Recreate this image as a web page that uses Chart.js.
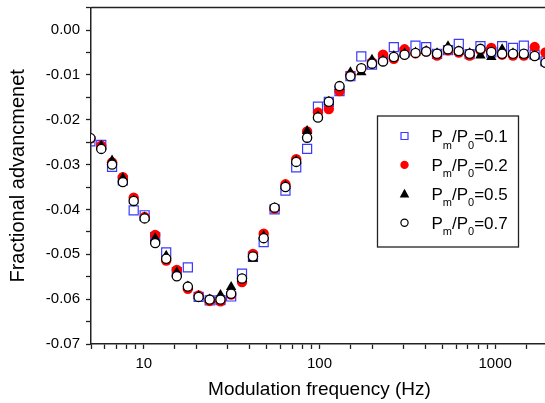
<!DOCTYPE html>
<html>
<head>
<meta charset="utf-8">
<script src="https://cdn.jsdelivr.net/npm/chart.js@4.4.1/dist/chart.umd.min.js"></script>
<style>
body{margin:0;background:#fff;overflow:hidden}
#wrap{width:556px;height:403px;position:relative}
</style>
</head>
<body>
<div id="wrap"><canvas id="myChart"></canvas></div>
<script>
// modulation frequency (Hz), same for all four runs
var freq = [4.96, 5.72, 6.59, 7.59, 8.75, 10.1, 11.6, 13.4, 15.4, 17.8,
            20.5, 23.7, 27.3, 31.4, 36.2, 41.8, 48.1, 55.5, 64.0, 73.7,
            85.0, 98.0, 113, 130, 150, 173, 199, 230, 265, 305,
            352, 405, 467, 539, 621, 716, 825, 951, 1096, 1264,
            1457, 1679, 1936];

// Pm/P0 = 0.1
var ratio01 = [-0.0248, -0.0256, -0.0305, -0.0335, -0.0402, -0.0413, -0.0462, -0.0496, -0.0540, -0.0529,
               -0.0595, -0.0603, -0.0602, -0.0594, -0.0543, -0.0505, -0.0473, -0.0400, -0.0358, -0.0306,
               -0.0265, -0.0171, -0.0160, -0.0136, -0.0103, -0.0059, -0.0077, -0.0062, -0.0038, -0.0050,
               -0.0035, -0.0038, -0.0053, -0.0045, -0.0031, -0.0054, -0.0036, -0.0050, -0.0036, -0.0040,
               -0.0035, -0.0055, -0.0070];
// Pm/P0 = 0.2
var ratio02 = [-0.0242, -0.0258, -0.0295, -0.0328, -0.0374, -0.0417, -0.0457, -0.0514, -0.0535, -0.0577,
               -0.0592, -0.0604, -0.0605, -0.0590, -0.0562, -0.0499, -0.0454, -0.0398, -0.0344, -0.0288,
               -0.0226, -0.0184, -0.0176, -0.0136, -0.0100, -0.0086, -0.0072, -0.0055, -0.0064, -0.0043,
               -0.0052, -0.0048, -0.0057, -0.0045, -0.0050, -0.0057, -0.0045, -0.0040, -0.0055, -0.0057,
               -0.0057, -0.0038, -0.0050];
// Pm/P0 = 0.5
var ratio05 = [-0.0240, -0.0258, -0.0291, -0.0330, -0.0380, -0.0418, -0.0464, -0.0503, -0.0540, -0.0572,
               -0.0593, -0.0601, -0.0591, -0.0573, -0.0555, -0.0510, -0.0459, -0.0397, -0.0348, -0.0292,
               -0.0225, -0.0192, -0.0160, -0.0127, -0.0094, -0.0094, -0.0066, -0.0068, -0.0058, -0.0052,
               -0.0050, -0.0047, -0.0052, -0.0036, -0.0048, -0.0052, -0.0057, -0.0060, -0.0043, -0.0052,
               -0.0055, -0.0058, -0.0072];
// Pm/P0 = 0.7
var ratio07 = [-0.0241, -0.0265, -0.0300, -0.0339, -0.0381, -0.0420, -0.0475, -0.0510, -0.0549, -0.0572,
               -0.0595, -0.0601, -0.0601, -0.0588, -0.0554, -0.0505, -0.0464, -0.0396, -0.0350, -0.0294,
               -0.0240, -0.0195, -0.0160, -0.0125, -0.0103, -0.0085, -0.0075, -0.0070, -0.0060, -0.0055,
               -0.0051, -0.0048, -0.0053, -0.0043, -0.0047, -0.0053, -0.0042, -0.0049, -0.0053, -0.0053,
               -0.0053, -0.0058, -0.0073];

var seriesNames = ['0.1', '0.2', '0.5', '0.7'];
var xTickLabels = [10, 100, 1000];

var FONT = '"Liberation Sans", Arial, sans-serif';

function pts(ys){
    return freq.map(function(f, i){ return {x: f, y: ys[i]}; });
}

// frame line along the top of the plot
var topBorder = {
    id: 'topBorder',
    afterDraw: function(chart){
        var a = chart.chartArea, ctx = chart.ctx;
        ctx.save();
        ctx.strokeStyle = '#222';
        ctx.lineWidth = 1.5;
        ctx.beginPath();
        ctx.moveTo(a.left, a.top);
        ctx.lineTo(a.right + 2, a.top);
        ctx.stroke();
        ctx.restore();
    }
};

function drawMarker(ctx, style, x, y, r){
    ctx.beginPath();
    if(style == 'rect'){
        ctx.rect(x - r, y - r, 2*r, 2*r);
        ctx.stroke();
    } else if(style == 'dot'){
        ctx.arc(x, y, r, 0, Math.PI*2);
        ctx.fill();
    } else if(style == 'triangle'){
        ctx.moveTo(x, y - r);
        ctx.lineTo(x + r*0.95, y + r*0.75);
        ctx.lineTo(x - r*0.95, y + r*0.75);
        ctx.closePath();
        ctx.fill();
    } else {
        ctx.arc(x, y, r, 0, Math.PI*2);
        ctx.fill();
        ctx.stroke();
    }
}

// legend box with subscripted labels
var pmLegend = {
    id: 'pmLegend',
    afterDraw: function(chart){
        var ctx = chart.ctx;
        var bx = 377.5, by = 116, bw = 141, bh = 131;
        ctx.save();
        ctx.fillStyle = '#fff';
        ctx.fillRect(bx, by, bw, bh);
        ctx.strokeStyle = '#222';
        ctx.lineWidth = 1.3;
        ctx.strokeRect(bx, by, bw, bh);

        var styles = ['rect', 'dot', 'triangle', 'open'];
        var fills = ['#fff', '#ff0000', '#000', '#fff'];
        var strokes = ['#3a3aff', '#ff0000', '#000', '#000'];
        var sizes = [3.5, 4.2, 5, 3.6];
        for(var i = 0; i < seriesNames.length; i++){
            var cy = 136 + i*28.9;
            ctx.fillStyle = fills[i];
            ctx.strokeStyle = strokes[i];
            ctx.lineWidth = 1.2;
            drawMarker(ctx, styles[i], 404.5, cy, sizes[i]);

            var x = 431.5, base = cy + 6;
            ctx.fillStyle = '#000';
            ctx.textBaseline = 'alphabetic';
            var parts = [['P', 0, 17], ['m', 6.5, 11], ['/P', 0, 17], ['0', 6.5, 11], ['=' + seriesNames[i], 0, 17]];
            parts.forEach(function(p){
                ctx.font = p[2] + 'px ' + FONT;
                ctx.fillText(p[0], x, base + p[1]);
                x += ctx.measureText(p[0]).width;
            });
        }
        ctx.restore();
    }
};

var ctx = document.getElementById('myChart').getContext('2d');

var chart = new Chart(ctx, {
    type: 'scatter',
    data: {
        datasets: [
            { label: 'Pm/P0=0.1', data: pts(ratio01), pointStyle: 'rect', pointRadius: 6.4,
              borderColor: '#3a3aff', backgroundColor: 'rgba(255,255,255,0)', borderWidth: 1.2, order: 4, clip: 0 },
            { label: 'Pm/P0=0.2', data: pts(ratio02), pointStyle: 'circle', pointRadius: 5.2,
              borderColor: '#ff0000', backgroundColor: '#ff0000', borderWidth: 0, order: 3, clip: 0 },
            { label: 'Pm/P0=0.5', data: pts(ratio05), pointStyle: 'triangle', pointRadius: 6,
              borderColor: '#000', backgroundColor: '#000', borderWidth: 0, order: 2, clip: 0 },
            { label: 'Pm/P0=0.7', data: pts(ratio07), pointStyle: 'circle', pointRadius: 4.6,
              borderColor: '#000', backgroundColor: '#fff', borderWidth: 1.3, order: 1, clip: 0 }
        ]
    },
    options: {
        responsive: true,
        maintainAspectRatio: false,
        animation: false,
        layout: { padding: { left: 0, right: 8, top: 5, bottom: 0 } },
        plugins: {
            legend: { display: false },
            tooltip: { enabled: false }
        },
        scales: {
            x: {
                type: 'logarithmic',
                min: 5,
                max: 2000,
                ticks: {
                    autoSkip: false,
                    maxRotation: 0,
                    color: '#000',
                    padding: 6,
                    font: { family: FONT, size: 15 },
                    callback: function(v){
                        for(var i = 0; i < xTickLabels.length; i++){
                            if(Math.abs(v - xTickLabels[i]) < 1e-6) return String(xTickLabels[i]);
                        }
                        return '';
                    }
                },
                grid: { drawOnChartArea: false, tickLength: 5, tickColor: '#222', tickWidth: 1.3 },
                border: { color: '#222', width: 1.5 },
                title: { display: true, text: 'Modulation frequency (Hz)', color: '#000',
                         font: { family: FONT, size: 19 }, padding: { top: 0, bottom: 2 } },
                afterFit: function(s){ s.height = 59; s.paddingLeft = 0; s.paddingRight = 0; }
            },
            y: {
                min: -0.07,
                max: 0.005,
                ticks: {
                    stepSize: 0.005,
                    color: '#000',
                    padding: 6,
                    font: { family: FONT, size: 15 },
                    callback: function(v){
                        var c = v * 100;
                        if(Math.abs(c - Math.round(c)) < 1e-6) return (Math.round(c) / 100).toFixed(2);
                        return '';
                    }
                },
                grid: { drawOnChartArea: false, tickLength: 5, tickColor: '#222', tickWidth: 1.3 },
                border: { color: '#222', width: 1.5 },
                title: { display: true, text: 'Fractional advancmenet', color: '#000',
                         font: { family: FONT, size: 20 }, padding: { top: 6, bottom: 0 } },
                afterFit: function(s){
                    s.width = 91;
                    // labels never reach the frame, so no extra room above or below
                    s.paddingTop = 0;
                    s.paddingBottom = 0;
                }
            }
        }
    },
    plugins: [topBorder, pmLegend]
});
</script>
</body>
</html>
